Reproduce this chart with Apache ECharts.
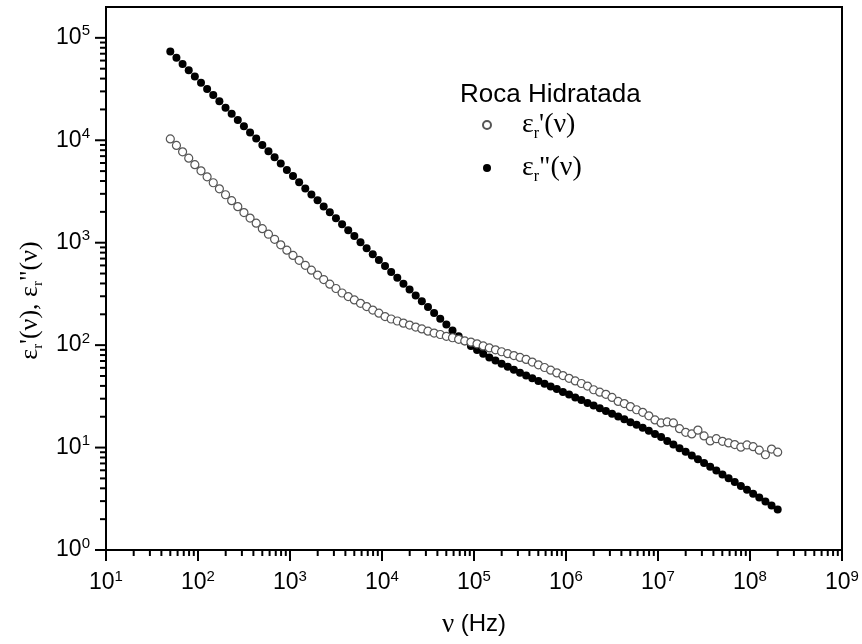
<!DOCTYPE html>
<html>
<head>
<meta charset="utf-8">
<script src="https://cdn.jsdelivr.net/npm/echarts@6/dist/echarts.min.js"></script>
<style>
  html, body { margin: 0; padding: 0; background: #fff; }
  #chart { width: 862px; height: 644px; }
</style>
</head>
<body>
<div id="chart"></div>
<script>
// frequency sweep (Hz)
const freq = [50, 58.3, 68.0, 79.3, 92.4, 107.8, 125.6, 146.5, 170.8, 199.2,
  232.2, 270.7, 315.7, 368.1, 429.1, 500.3, 583.3, 680.1, 793.0, 924.6,
  1078, 1257, 1466, 1709, 1993, 2323, 2709, 3159, 3683, 4294,
  5007, 5838, 6807, 7936, 9253, 10789, 12579, 14666, 17100, 19938,
  23246, 27104, 31602, 36846, 42960, 50089, 58400, 68093, 79392, 92566,
  1.079e5, 1.259e5, 1.467e5, 1.711e5, 1.995e5, 2.326e5, 2.713e5, 3.162e5, 3.687e5, 4.299e5,
  5.013e5, 5.845e5, 6.815e5, 7.946e5, 9.265e5, 1.080e6, 1.260e6, 1.469e6, 1.713e6, 1.997e6,
  2.328e6, 2.714e6, 3.165e6, 3.690e6, 4.302e6, 5.016e6, 5.849e6, 6.819e6, 7.951e6, 9.271e6,
  1.081e7, 1.260e7, 1.470e7, 1.714e7, 1.998e7, 2.330e7, 2.716e7, 3.167e7, 3.693e7, 4.305e7,
  5.020e7, 5.853e7, 6.824e7, 7.957e7, 9.277e7, 1.082e8, 1.261e8, 1.471e8, 1.715e8, 2.000e8];

// eps_r' (open circles)
const epsReal = [10300, 8910, 7710, 6680, 5780, 5030, 4400, 3850, 3360, 2940,
  2570, 2250, 1970, 1740, 1550, 1370, 1210, 1080, 953, 845,
  752, 673, 602, 539, 483, 437, 394, 357, 323, 298,
  276, 256, 238, 220, 205, 190, 180, 172, 164, 157,
  150, 144, 137, 131, 127, 122, 118, 114, 110, 107,
  103, 98.2, 94.0, 90.0, 86.2, 82.6, 79.1, 75.8, 72.6, 68.4,
  64.3, 60.5, 56.9, 53.6, 50.4, 47.4, 44.7, 42.2, 39.8, 36.7,
  34.7, 33.1, 30.9, 28.2, 26.9, 25.1, 23.4, 22.1, 20.4, 18.6,
  17.4, 17.8, 17.4, 15.3, 14.1, 13.6, 14.8, 13.0, 11.6, 12.2,
  11.5, 11.1, 10.7, 10.1, 10.6, 10.2, 9.44, 8.51, 9.66, 9.02];

// eps_r'' (filled circles)
const epsImag = [73500, 63800, 55500, 48300, 42000, 36500, 31700, 27600, 24000, 20800,
  18100, 15800, 13700, 11900, 10400, 9010, 7830, 6810, 5920, 5140,
  4480, 3890, 3380, 2960, 2590, 2260, 1980, 1730, 1510, 1320,
  1160, 1010, 883, 773, 676, 591, 519, 455, 398, 349,
  306, 268, 235, 206, 181, 159, 139, 122, 109, 98.3,
  89.5, 82.4, 75.9, 70.7, 65.9, 61.5, 57.4, 53.7, 50.5, 47.5,
  44.7, 42.0, 39.5, 37.2, 34.9, 32.9, 30.9, 29.1, 27.3, 25.7,
  24.2, 22.7, 21.4, 20.1, 18.9, 17.7, 16.7, 15.6, 14.6, 13.6,
  12.7, 11.6, 10.7, 9.86, 9.08, 8.35, 7.69, 7.08, 6.49, 5.96,
  5.47, 5.01, 4.60, 4.22, 3.88, 3.55, 3.25, 2.97, 2.72, 2.49];

const xDecades = [10, 1e2, 1e3, 1e4, 1e5, 1e6, 1e7, 1e8, 1e9];
const yDecades = [1, 10, 1e2, 1e3, 1e4, 1e5];
const xMin = 10, xMax = 1e9, yMin = 1, yMax = 2e5;

const legendTitle = 'Roca Hidratada';
const seriesNames = ['er1', 'er2'];
const legendLabels = {
  er1: "{e|ε}{s|r}{e|'(ν)}",
  er2: '{e|ε}{s|r}{e|"(ν)}'
};

// tick marks: [x, y, direction(0 = x axis, 1 = y axis), length]
const ticks = [];
xDecades.forEach(d => {
  ticks.push([d, yMin, 0, 11]);
  if (d < xMax) for (let k = 2; k <= 9; k++) ticks.push([k * d, yMin, 0, 6]);
});
yDecades.forEach(d => {
  ticks.push([xMin, d, 1, 11]);
  for (let k = 2; k <= 9; k++) if (k * d < yMax) ticks.push([xMin, k * d, 1, 6]);
});

function pow10Label(v) {
  const e = Math.log10(v);
  if (Math.abs(e - Math.round(e)) > 1e-6) return '';
  return '{b|10}{s|' + Math.round(e) + '}';
}

const labelRich = {
  b: { fontSize: 23, lineHeight: 28, fontFamily: 'Liberation Sans', color: '#000' },
  s: { fontSize: 15, lineHeight: 15, verticalAlign: 'top', fontFamily: 'Liberation Sans', color: '#000' }
};

const chart = echarts.init(document.getElementById('chart'));
chart.setOption({
  backgroundColor: '#fff',
  animation: false,
  title: {
    text: legendTitle,
    left: 455,
    top: 77,
    textStyle: { fontFamily: 'Liberation Sans', fontSize: 26, fontWeight: 'normal', color: '#000' }
  },
  legend: {
    orient: 'vertical',
    left: 477,
    top: 106,
    itemWidth: 60,
    itemHeight: 8,
    itemGap: 12,
    data: seriesNames,
    formatter: name => legendLabels[name],
    textStyle: {
      color: '#000',
      rich: {
        e: { fontFamily: 'Liberation Serif', fontSize: 28, lineHeight: 34, color: '#000' },
        s: { fontFamily: 'Liberation Serif', fontSize: 16, lineHeight: 16, verticalAlign: 'bottom', color: '#000' }
      }
    }
  },
  grid: {
    left: 106, right: 20, top: 7, bottom: 94,
    show: true, borderColor: '#000', borderWidth: 2
  },
  xAxis: {
    type: 'log',
    logBase: 10,
    min: xMin,
    max: xMax,
    splitNumber: 8,
    name: '{g|ν} (Hz)',
    nameLocation: 'middle',
    nameGap: 61,
    nameTextStyle: {
      fontFamily: 'Liberation Sans', fontSize: 24, color: '#000',
      rich: { g: { fontFamily: 'Liberation Serif', fontSize: 27, color: '#000' } }
    },
    axisLine: { lineStyle: { color: '#000', width: 2 } },
    axisTick: { show: false },
    minorTick: { show: false },
    splitLine: { show: false },
    axisLabel: { margin: 19, fontSize: 23, fontFamily: 'Liberation Sans', formatter: pow10Label, rich: labelRich }
  },
  yAxis: {
    type: 'log',
    logBase: 10,
    min: yMin,
    max: yMax,
    splitNumber: 5,
    name: "{e|ε}{s|r}{e|'(ν), ε}{s|r}{e|\"(ν)}",
    nameLocation: 'middle',
    nameGap: 60,
    nameTextStyle: {
      color: '#000',
      padding: [0, 44, 0, 0],
      rich: {
        e: { fontFamily: 'Liberation Serif', fontSize: 26, lineHeight: 30, color: '#000' },
        s: { fontFamily: 'Liberation Serif', fontSize: 15, lineHeight: 15, verticalAlign: 'bottom', color: '#000' }
      }
    },
    axisLine: { lineStyle: { color: '#000', width: 2 } },
    axisTick: { show: false },
    minorTick: { show: false },
    splitLine: { show: false },
    axisLabel: { margin: 16, fontSize: 23, fontFamily: 'Liberation Sans', formatter: pow10Label, rich: labelRich }
  },
  series: [
    {
      name: 'ticks',
      type: 'custom',
      silent: true,
      clip: false,
      data: ticks,
      renderItem: (params, api) => {
        const p = api.coord([api.value(0), api.value(1)]);
        const len = api.value(3);
        const horiz = api.value(2) === 1;
        return {
          type: 'line',
          shape: horiz
            ? { x1: p[0], y1: p[1], x2: p[0] - len, y2: p[1] }
            : { x1: p[0], y1: p[1], x2: p[0], y2: p[1] + len },
          style: { stroke: '#000', lineWidth: 2 }
        };
      }
    },
    {
      name: 'er2',
      type: 'scatter',
      symbol: 'circle',
      symbolSize: 8,
      itemStyle: { color: '#000', opacity: 1 },
      data: freq.map((f, i) => [f, epsImag[i]]),
      z: 2
    },
    {
      name: 'er1',
      type: 'scatter',
      symbol: 'circle',
      symbolSize: 8,
      itemStyle: { color: '#fff', borderColor: '#555', borderWidth: 1.2, opacity: 1 },
      data: freq.map((f, i) => [f, epsReal[i]]),
      z: 3
    }
  ]
});
</script>
</body>
</html>
